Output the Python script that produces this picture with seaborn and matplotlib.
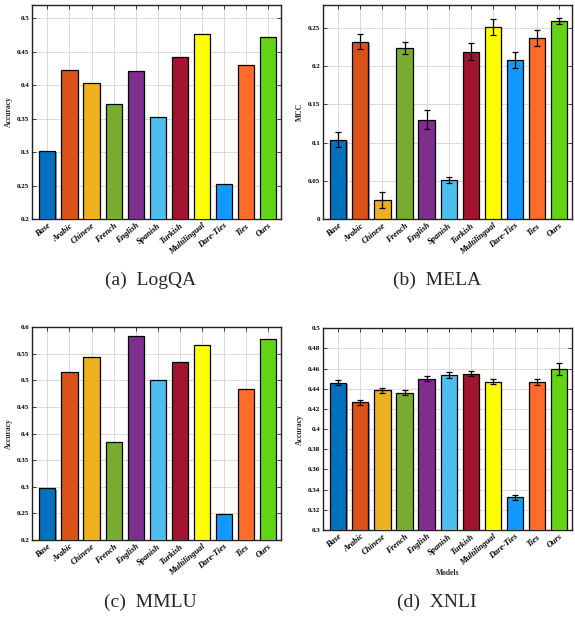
import numpy as np
import pandas as pd
import matplotlib
matplotlib.use("Agg")
import matplotlib.pyplot as plt
import matplotlib.patheffects as pe
import seaborn as sns

# categories and colours
models = ["Base", "Arabic", "Chinese", "French", "English", "Spanish",
          "Turkish", "Multilingual", "Dare-Ties", "Ties", "Ours"]
colors = ["#0072BD", "#D95319", "#EDB120", "#77AC30", "#7E2F8E", "#4DBEEE",
          "#A2142F", "#FFFF00", "#1199FF", "#FF6B2B", "#62D416"]

# values
logqa = [0.302, 0.423, 0.403, 0.372, 0.421, 0.353, 0.442, 0.477, 0.252, 0.430, 0.472]

mela = [0.104, 0.232, 0.025, 0.224, 0.130, 0.051, 0.219, 0.251, 0.208, 0.237, 0.259]
mela_err = [0.010, 0.010, 0.010, 0.008, 0.0125, 0.0045, 0.011, 0.010, 0.011, 0.0105, 0.004]

mmlu = [0.298, 0.515, 0.544, 0.384, 0.583, 0.500, 0.535, 0.567, 0.249, 0.483, 0.577]

xnli = [0.446, 0.4265, 0.4385, 0.436, 0.450, 0.4535, 0.455, 0.447, 0.3325, 0.447, 0.4595]
xnli_err = [0.0027, 0.0026, 0.0027, 0.0026, 0.0027, 0.0028, 0.0025, 0.0026, 0.0026, 0.0028, 0.006]

sns.set_theme(style="whitegrid")
plt.rcParams["font.family"] = ["Liberation Serif", "DejaVu Serif"]

fig = plt.figure(figsize=(5.75, 6.17), dpi=100)


def panel(rect, vals, err, ylim, yticks, ylabel, caption, cap_xy, xlabel=None):
    ax = fig.add_axes(rect)
    df = pd.DataFrame({"model": models, "value": vals})
    sns.barplot(data=df, x="model", y="value", hue="model", palette=colors,
                saturation=1, legend=False, width=0.73, edgecolor="black",
                linewidth=0.9, ax=ax, zorder=3)
    for p in ax.patches:
        p.set_path_effects([pe.SimplePatchShadow(offset=(1.2, -1.2), shadow_rgbFace="0.45",
                                                 alpha=0.7), pe.Normal()])
    if err is not None:
        ax.errorbar(np.arange(len(models)), vals, yerr=err, fmt="none",
                    ecolor="black", elinewidth=0.9, capsize=2.2, capthick=0.9, zorder=4)
    ax.set_xlim(-0.7, len(models) - 0.4)
    ax.set_ylim(*ylim)
    ax.set_yticks(yticks)
    ax.set_yticklabels([f"{t:g}" for t in yticks], fontsize=5, fontweight="bold")
    ax.set_xticks(np.arange(len(models)))
    ax.set_xticklabels(models, rotation=40, ha="right", rotation_mode="anchor",
                       fontsize=6, fontweight="bold", fontstyle="italic")
    ax.set_ylabel(ylabel, fontsize=5.5, fontweight="bold", labelpad=3)
    if xlabel:
        ax.set_xlabel(xlabel, fontsize=5.5, fontweight="bold", labelpad=1)
    else:
        ax.set_xlabel("")
    ax.grid(True, color="#d4d4d4", linewidth=0.6, zorder=0)
    ax.set_axisbelow(True)
    for s in ax.spines.values():
        s.set_color("#222222")
        s.set_linewidth(1.0)
    ax.tick_params(direction="in", length=3, width=0.6, top=True, right=True,
                   bottom=True, left=True, pad=2, colors="#222222")
    ax.tick_params(axis="x", labelcolor="black")
    ax.tick_params(axis="y", labelcolor="black")
    fig.text(cap_xy[0], cap_xy[1], caption, ha="center", va="center", fontsize=14)
    return ax


panel([0.0557, 0.645, 0.433, 0.347], logqa, None, (0.2, 0.52),
      [0.2, 0.25, 0.3, 0.35, 0.4, 0.45, 0.5], "Accuracy", "(a)  LogQA", (0.261, 0.545))
panel([0.5617, 0.645, 0.433, 0.347], mela, mela_err, (0, 0.28),
      [0, 0.05, 0.1, 0.15, 0.2, 0.25], "MCC", "(b)  MELA", (0.76, 0.545))
panel([0.0557, 0.1248, 0.433, 0.345], mmlu, None, (0.2, 0.6),
      [0.2, 0.25, 0.3, 0.35, 0.4, 0.45, 0.5, 0.55, 0.6], "Accuracy", "(c)  MMLU", (0.261, 0.023))
panel([0.5617, 0.141, 0.433, 0.327], xnli, xnli_err, (0.3, 0.5),
      [0.3, 0.32, 0.34, 0.36, 0.38, 0.4, 0.42, 0.44, 0.46, 0.48, 0.5], "Accuracy",
      "(d)  XNLI", (0.76, 0.023), xlabel="Models")

fig.savefig("out.png", dpi=100)
